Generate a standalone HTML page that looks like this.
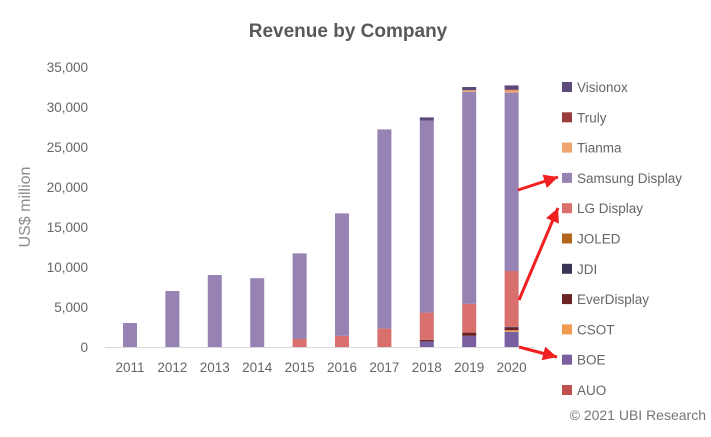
<!DOCTYPE html>
<html><head><meta charset="utf-8"><style>
body{margin:0;background:#fff;width:711px;height:432px;overflow:hidden;font-family:"Liberation Sans",sans-serif}
</style></head><body>
<svg id="c" width="711" height="432"></svg>
<script>
const years=["2011","2012","2013","2014","2015","2016","2017","2018","2019","2020"];
const seriesNames=["AUO","BOE","CSOT","EverDisplay","JDI","JOLED","LG Display","Samsung Display","Tianma","Truly","Visionox"];
const colors=["#c0504d","#7a5fa0","#f09a50","#6b2424","#3b3457","#b5651d","#d9706d","#9683b3","#f0a56e","#9b3c3c","#5b4a7a"];
const AUO=[0,0,0,0,0,0,0,0,0,0];
const BOE=[0,0,0,0,0,0,0,700,1400,1900];
const CSOT=[0,0,0,0,0,0,0,0,0,200];
const EverDisplay=[0,0,0,0,0,0,0,200,400,300];
const JDI=[0,0,0,0,0,0,0,0,0,100];
const JOLED=[0,0,0,0,0,0,0,0,0,0];
const LG=[0,0,0,0,1000,1400,2300,3400,3600,7000];
const Samsung=[3000,7000,9000,8600,10700,15300,24900,24000,26500,22300];
const Tianma=[0,0,0,0,0,0,0,0,200,300];
const Truly=[0,0,0,0,0,0,0,0,0,100];
const Visionox=[0,0,0,0,0,0,0,400,400,500];
const series=[AUO,BOE,CSOT,EverDisplay,JDI,JOLED,LG,Samsung,Tianma,Truly,Visionox];
const yTicks=[0,5000,10000,15000,20000,25000,30000,35000];
const NS="http://www.w3.org/2000/svg",svg=document.getElementById('c');
const y0=347,yTop=67,yMax=35000;
const y=v=>y0-(v/yMax)*(y0-yTop);
const x=i=>130+i*42.4;
function mk(t,a,txt){const e=document.createElementNS(NS,t);for(const k in a)e.setAttribute(k,a[k]);if(txt!==undefined)e.textContent=txt;svg.appendChild(e);return e;}
let e=mk('text',{x:348,y:37,'text-anchor':'middle','font-size':19,'font-weight':'bold',fill:'#595959'},'Revenue by Company');


e=mk('text',{x:30,y:207,'text-anchor':'middle','font-size':16,fill:'#8c8c8c',transform:'rotate(-90 30 207)'},'US$ million');


yTicks.forEach(v=>{const t=mk('text',{x:88,y:y(v)+5,'text-anchor':'end','font-size':13.5,fill:'#666'},v.toLocaleString('en-US'));

});
e=mk('line',{x1:105,x2:535,y1:y0+0.5,y2:y0+0.5,stroke:'#d9d9d9'});


years.forEach((yr,i)=>{const t=mk('text',{x:x(i),y:372,'text-anchor':'middle','font-size':13.5,fill:'#666'},yr);


let acc=0;series.forEach((s,k)=>{const v=s[i];if(v<=0)return;const r=mk('rect',{x:x(i)-7,width:14,y:y(acc+v),height:y(acc)-y(acc+v),fill:colors[k]});


acc+=v;});});
const legendOrder=seriesNames.map((n,i)=>i).reverse();
legendOrder.forEach((k,j)=>{const ly=87+j*30.3;
const r=mk('rect',{x:562,y:ly-5,width:10,height:10,fill:colors[k]});


const t=mk('text',{x:577,y:ly+5,'font-size':13.5,fill:'#666'},seriesNames[k]);

});
e=mk('text',{x:706,y:420,'text-anchor':'end','font-size':14,fill:'#777'},'© 2021 UBI Research');


function arrow(x1,y1,x2,y2){const a=mk('line',{x1,y1,x2,y2,stroke:'#f02020','stroke-width':3});


const ang=Math.atan2(y2-y1,x2-x1),L=14,W=7;
const p=[[x2,y2],[x2-L*Math.cos(ang)+W*Math.sin(ang),y2-L*Math.sin(ang)-W*Math.cos(ang)],[x2-L*Math.cos(ang)-W*Math.sin(ang),y2-L*Math.sin(ang)+W*Math.cos(ang)]];
const h=mk('polygon',{points:p.map(q=>q.join(',')).join(' '),fill:'#f02020'});

}
arrow(518,190,558,177);
arrow(519,300,558,208);
arrow(519,347,557,357);
</script></body></html>
